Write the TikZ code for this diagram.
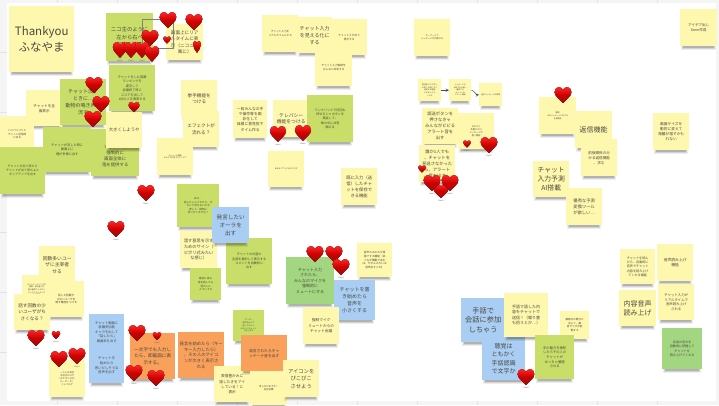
\documentclass[tikz,border=0pt]{standalone}
\usepackage{fontspec}
\setmainfont{Noto Sans CJK JP}
\definecolor{ny}{HTML}{FEF7AE}
\definecolor{ng}{HTML}{C9DE68}
\definecolor{nd}{HTML}{A3D680}
\definecolor{nb}{HTML}{A9CDF3}
\definecolor{no}{HTML}{F9A05A}
\definecolor{inkc}{HTML}{4A4A40}
\definecolor{gridc}{HTML}{E4E4E4}
\tikzset{
  sticky/.style={anchor=north west,inner sep=0.5pt,align=center,text=inkc},
  hearttext/.style={font=\fontsize{2}{2}\selectfont,text=black!60,inner sep=0pt},
  linkarrow/.style={-stealth,draw=black!70,line width=0.5pt},
}
% \note{name}{colour}{x}{y}{w}{h}{font size}{text}
\newcommand{\note}[8]{%
  \foreach \ss/\oo in {0/0.07,1/0.10,2/0.16}{%
    \fill[black,opacity=\oo] ({#3+1+\ss},{#4+#6-3}) rectangle ({#3+#5-1-\ss},{#4+#6+4-\ss});
  }%
  \pgfmathsetmacro{\lsk}{#7*1.38}%
  \node[sticky,fill=#2,minimum width=#5pt,minimum height=#6pt,font=\fontsize{#7}{\lsk}\selectfont] (#1) at (#3,#4) {#8};%
}
% \heartmark{name}{x}{y}{scale x}{scale y}{label?}
\newcommand{\heartmark}[6]{%
  \begin{scope}[shift={(#2,#3)},xscale=#4,yscale=#5]
    \fill[top color=red!85!white,bottom color=red!60!black!95,middle color=red!80!black]
      (0,8) .. controls (-3,4.5) and (-8.5,1.5) .. (-8.5,-3)
      .. controls (-8.5,-6) and (-6.3,-8) .. (-4.2,-8)
      .. controls (-2.2,-8) and (-0.7,-6.5) .. (0,-5.2)
      .. controls (0.7,-6.5) and (2.2,-8) .. (4.2,-8)
      .. controls (6.3,-8) and (8.5,-6) .. (8.5,-3)
      .. controls (8.5,1.5) and (3,4.5) .. (0,8) -- cycle;
    \coordinate (#1) at (0,0);
  \end{scope}%
  \ifnum#6=1 \node[hearttext] (#1t) at (#2,{#3+8.5*#5+2.5}) {Heart};\fi
}
\begin{document}
\begin{tikzpicture}[x=1pt,y=-1pt]
\useasboundingbox (0,0) rectangle (719,405);
\fill[black!4] (0,0) rectangle (719,405);
\foreach \gx in {57,117,177,237,297,357,417,477,537,597,657}{\draw[gridc,line width=0.4pt] (\gx,0) -- (\gx,405);}
\foreach \gy in {52,112,172,232,292,352}{\draw[gridc,line width=0.4pt] (0,\gy) -- (7,\gy);}
\fill[white] (7,3) rectangle (716,401);
% top left
\note{n1}{ny}{9}{6}{65}{66}{11.5}{Thankyou\\ふなやま}
\note{n2}{ng}{106}{13}{47}{48}{5.3}{ニコ生のように\\左から右へ\\文字を流す}
\note{n3}{ny}{166}{24}{37}{36}{4.6}{画面上にリア\\ルタイムに表\\示（ニコニコ\\風に）}
\note{n4}{ng}{109}{65}{46}{46}{3.2}{チャットをした回数\\ランキングを\\提示して\\会議終了時に\\スコアを出して\\1位の人を表彰する}
\note{n5}{ny}{26}{90}{36}{36}{3.6}{チャットを全\\面表示}
\note{n6}{ng}{60}{79}{46}{46}{5}{チャット流す\\ときに…\\動物の鳴き声が\\流す}
\note{n7}{ng}{43}{127}{48}{45}{3.2}{チャットが流した時に\\画面上に\\煙が多様に出す}
\note{n8}{ng}{91}{129}{48}{47}{4.4}{特定の\\チャットを\\強制的に\\画面全体に\\鬼を提供する}
\note{n9}{ny}{106}{112}{36}{36}{4.4}{大きくしようや}
\note{n10}{ny}{0}{116}{34}{36}{2.6}{パリパリパリと\\チャット送信時\\に出る}
\note{n11}{ng}{0}{147}{45}{47}{3}{チャットが出て来たら\\チャットが出て来たよと\\ポップアップを出す}
\note{n12}{ny}{181}{80}{36}{37}{4.6}{挙手機能を\\つける}
\note{n13}{ny}{183}{111}{36}{36}{4.6}{エフェクトが\\流れる？}
\note{n14}{ny}{157}{138}{36}{37}{1.9}{チャットの機能\\みんなで共有するアイデア}
% top middle
\note{n15}{ny}{262}{15}{36}{37}{2.6}{チャット入力を\\リアルタイムにする}
\note{n17}{ny}{331}{19}{36}{36}{2.7}{チャット入力中と\\表示する}
\note{n16}{ny}{297}{17}{35}{36}{5}{チャット入力\\を見える化に\\する}
\note{n18}{ny}{315}{49}{37}{37}{2.7}{チャット入力後続を\\みんなに共有する}
\note{n19}{ny}{414}{19}{36}{37}{2.2}{キーワードで\\メッセージが判断する}
\note{n20}{ny}{233}{100}{34}{38}{3.8}{一目みんなの手\\や操作等を画\\非化して\\目線に意見投下\\タイム作る}
\note{n21}{ny}{273}{100}{36}{37}{4.8}{テレパシー\\機能をつける}
\note{n22}{ng}{307}{95}{46}{47}{3.1}{ワンクリックで何回も\\押せるシャボタンを\\実装して、\\頭の中に共有\\願える}
\note{n23}{ny}{418}{79}{23}{22}{1.9}{誤送信したボタン\\を押した時にすぐ\\送信する機能\\とかあったら\\いいな}
\note{n24}{ny}{449}{79}{22}{22}{1.8}{メッセージが\\送信される前に\\確認する\\チャットの\\アラート機能}
\note{n25}{ny}{479}{83}{23}{23}{1.9}{過去メッセージの検索}
\note{n26}{ny}{458}{113}{36}{36}{2.2}{おかえり\\本番だけは\\メッセージが\\届く機能}
\note{n27}{ny}{422}{108}{36}{36}{4.3}{誤送ボタンを\\押さなきゃ\\みんながビビる\\アラート音を\\出す}
\note{n28}{ny}{419}{145}{36}{37}{4.3}{誰か1人でも\\、チャットを\\見逃さなかった\\ら、アラート\\音を出す}
\note{n29}{ny}{268}{151}{36}{36}{1.9}{あああアプリにあまります}
\note{n30}{ny}{341}{168}{36}{37}{4.3}{既に入力（送\\信）したチャ\\ットを保存で\\きる機能}
% right
\note{n31}{ny}{680}{9}{37}{37}{3.6}{アイデア出し\\8min作成}
\note{n32}{ny}{539}{97}{37}{37}{1.9}{（優先）\\あるメッセージに対する\\返信機能}
\note{n33}{ny}{575}{111}{37}{37}{7}{返信機能}
\note{n34}{ny}{581}{139}{36}{37}{3.6}{前後関係の分\\かる返信機能\\、求む}
\note{n35}{ny}{653}{113}{36}{37}{3.7}{画面サイズを\\動的に変えて\\距離が増すかも\\れない}
\note{n36}{ny}{533}{161}{36}{36}{6.8}{チャット\\入力予測\\AI搭載}
\note{n37}{ny}{566}{188}{36}{37}{4.3}{優秀な予測\\変換ツール\\が欲しい…}
% middle
\note{n38}{ng}{177}{184}{42}{43}{2.6}{あの…\\話したいんですけど、ボ\\タンで出せないかな\\押して、検知に\\見つけてるかな？}
\note{n39}{ny}{180}{231}{37}{37}{4.2}{話す意思を示す\\ためのサイン（\\ピポリ式みたい\\な感じ）}
\note{n40}{ng}{190}{268}{31}{32}{2.6}{最初に高み\\話を話したら\\他の人に\\ようにする}
\note{n41}{ng}{226}{238}{46}{46}{3.1}{チャットの内容の\\全部を要約して表示する\\コメントを自動的に\\出す}
\note{n42}{nb}{212}{207}{37}{36}{5.6}{発言したい\\オーラを\\出す}
\note{n43}{ny}{39}{246}{36}{37}{4.8}{回数多いユー\\ザに主宰者\\せる}
\note{n44}{ny}{48}{281}{36}{36}{2.7}{話した回数が\\少ないユーザを\\増す機能をつける}
\note{n45}{ny}{22}{275}{29}{29}{1.9}{ネットミーティングの\\回数・参加者に対\\話の量等でしかない\\エッジでランキング\\する機能}
\note{n46}{ny}{14}{294}{36}{36}{4.6}{話す回数の少\\いユーザがち\\さくなる？}
\note{n47}{ny}{49}{360}{36}{37}{2.3}{一人人の発言\\を自分のログ\\（カテゴリ分け、\\ルーデータ）\\としてログ}
\note{n48}{nb}{89}{314}{35}{36}{3.3}{チャット画面に\\会議参加者\\キャラを出して\\「話したら」\\画面系を出す}
\note{n49}{nb}{89}{348}{35}{35}{3.4}{チャットを\\始めたら\\思いだしそうな\\音声を出す}
\note{n50}{no}{130}{333}{45}{46}{4.6}{一文字でも入力し\\たら、即画面に表\\示する。}
\note{n51}{no}{178}{332}{46}{46}{4.3}{発言を始めたら（キー\\キー入力したら）\\、その人のアイコ\\ンが大きく表示さ\\れる}
\note{n52}{ny}{214}{366}{36}{36}{3.7}{表情豊かみに\\話したきをアイ\\している！に\\表示}
\note{n53}{ng}{233}{310}{31}{31}{2}{サーター\\音声を出して\\話してほしい\\みたいにチャット\\で出します}
\note{n54}{no}{241}{335}{46}{36}{3.8}{発言されたらキャ\\ッテーナ音を出す}
\note{n55}{ny}{250}{371}{37}{34}{2.4}{流しかけますか！\\会社役職}
\note{n56}{ny}{283}{360}{36}{37}{5.3}{アイコンを\\ぴこぴこ\\させよう}
\note{n57}{nd}{286}{257}{48}{47}{4}{チャット入力\\されたら、\\みんなのマイクを\\強制的に\\ミュートにする}
\note{n58}{ny}{357}{243}{35}{34}{2.7}{音声のみのみが音\\強でする機能（あ\\つちが喋動であれ\\ば、やかんみたいな\\音声出すとか）}
\note{n59}{nb}{334}{280}{41}{40}{5}{チャットを書\\き始めたら\\音声を\\小さくする}
\note{n60}{ny}{303}{307}{36}{37}{3.7}{強制マイク\\ミュートからの\\チャット会議}
% bottom right
\note{n61}{nb}{461}{298}{44}{44}{7.2}{手話で\\会話に参加\\しちゃう}
\note{n62}{nb}{482}{337}{43}{43}{6}{聴覚は\\ともかく\\手話認識\\で文字か}
\note{n63}{ny}{504}{293}{44}{44}{4}{手話で話した内\\容をチャットで\\送信！（喋り書\\も拾うとか…）}
\note{n64}{ny}{560}{311}{29}{28}{2.6}{画面内の動きに\\応じて、画\\音サイズが変\\動する}
\note{n65}{ng}{535}{335}{39}{44}{3.3}{手の動きを検知\\したらその人の\\チャットが\\めっちゃ優遇\\される}
\note{n66}{ny}{620}{249}{35}{35}{3.1}{チャットを読ん\\だら、自動的に\\音声でチャット\\内容を読み上げ\\てくれる機能}
\note{n67}{ny}{657}{244}{36}{37}{3.8}{音声読み上げ\\機能}
\note{n68}{ny}{619}{290}{37}{36}{7}{内容音声\\読み上げ}
\note{n69}{ny}{658}{284}{36}{36}{3.4}{チャット入力が\\リアルタイムで\\音声読み上げ\\される}
\note{n70}{nd}{662}{328}{40}{41}{3.1}{会話の流れを\\自動的に把握して\\チャットを\\読み上げてくれる}
% links
\draw[linkarrow] (n23) -- (n24);
\draw[linkarrow] (n24.east) .. controls (475,91) and (476,95) .. (n25.west);
% selection frame
\draw[black!50,line width=0.5pt] (142,19) rectangle (173,48);
% hearts
\heartmark{h1}{168}{20}{1}{1}{0}
\heartmark{h2}{194}{22}{1}{1}{0}
\heartmark{h3}{150}{38}{1}{1}{0}
\heartmark{h4}{167}{40}{0.45}{0.45}{0}
\heartmark{h5}{197}{47}{0.47}{0.75}{0}
\heartmark{h6}{120}{50}{0.85}{1}{1}
\heartmark{h7}{131}{50}{0.85}{1}{1}
\heartmark{h8}{142}{50}{0.85}{1}{1}
\heartmark{h9}{152}{54}{0.85}{1}{0}
\heartmark{h10}{134}{107}{0.65}{0.65}{0}
\heartmark{h11}{94}{85}{1}{1}{0}
\heartmark{h12}{101}{104}{1}{1}{0}
\heartmark{h13}{93}{119}{1}{1}{0}
\heartmark{h14}{278}{134}{0.95}{1}{1}
\heartmark{h15}{303}{133}{0.95}{1}{1}
\heartmark{h16}{563}{95}{1}{1}{0}
\heartmark{h17}{489}{145}{1}{1}{1}
\heartmark{h18}{467}{144}{0.45}{0.45}{1}
\heartmark{h19}{422}{169}{0.45}{0.45}{0}
\heartmark{h20}{441}{191}{0.9}{0.9}{1}
\heartmark{h21}{432}{183}{1}{1}{1}
\heartmark{h22}{450}{183}{1}{1}{1}
\heartmark{h23}{146}{193}{1}{1}{1}
\heartmark{h24}{116}{229}{1}{1}{1}
\heartmark{h25}{315}{254}{1}{1}{0}
\heartmark{h26}{334}{254}{1}{1}{0}
\heartmark{h27}{341}{267}{1}{1}{1}
\heartmark{h28}{36}{338}{1}{1}{1}
\heartmark{h29}{56}{335}{0.5}{0.5}{1}
\heartmark{h30}{59}{359}{1}{1}{0}
\heartmark{h31}{77}{356}{1}{1}{1}
\heartmark{h32}{137}{333}{1}{1}{0}
\heartmark{h33}{157}{336}{0.5}{0.5}{1}
\heartmark{h34}{134}{373}{1}{1}{1}
\heartmark{h35}{156}{378}{1}{1}{1}
\heartmark{h36}{526}{377}{1}{1}{1}
\end{tikzpicture}
\end{document}
